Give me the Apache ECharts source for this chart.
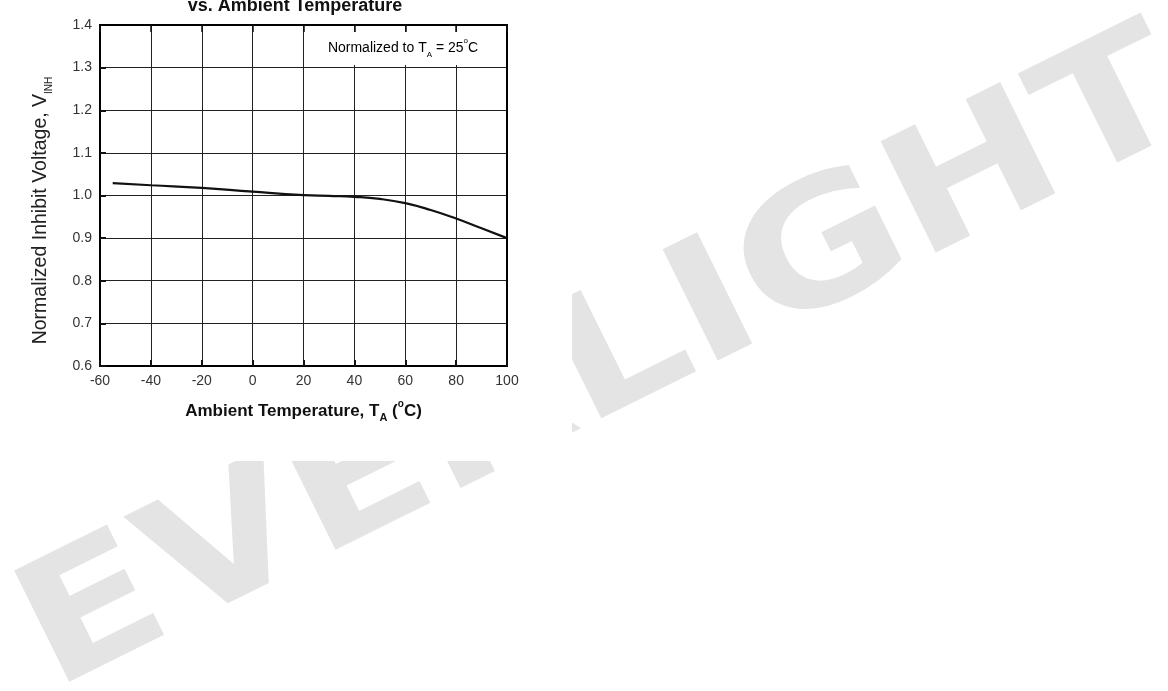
<!DOCTYPE html>
<html>
<head>
<meta charset="utf-8">
<script src="https://cdn.jsdelivr.net/npm/echarts@6/dist/echarts.min.js"></script>
<style>
  html, body { margin: 0; padding: 0; background: #fff; }
  #chart { width: 1168px; height: 691px; }
</style>
</head>
<body>
<div id="chart"></div>
<script>
// curve: ambient temperature (°C) vs normalized V_INH
const temps = [-55, -40, -20, 0, 20, 30, 40, 50, 60, 70, 80, 90, 100];
const vinh = [1.029, 1.024, 1.018, 1.009, 1.001, 0.999, 0.997, 0.992, 0.982, 0.966, 0.946, 0.923, 0.900];

// axis ranges
const xRange = [-60, 100, 20];
const yRange = [0.6, 1.4, 0.1];

const watermark = 'EVERLIGHT';
const font = '"Liberation Sans", Arial, sans-serif';

const chart = echarts.init(document.getElementById('chart'));

const richBase = {
  b: { fontSize: 17, fontWeight: 'bold', color: '#111', fontFamily: font, lineHeight: 24, verticalAlign: 'middle' },
  sub: { fontSize: 11, fontWeight: 'bold', color: '#111', fontFamily: font, lineHeight: 10, verticalAlign: 'bottom' },
  sup: { fontSize: 10, fontWeight: 'bold', color: '#111', fontFamily: font, lineHeight: 8, verticalAlign: 'top' }
};

const richY = {
  n: { fontSize: 19.5, color: '#222', fontFamily: font, lineHeight: 26, verticalAlign: 'middle' },
  sub: { fontSize: 10, color: '#222', fontFamily: font, lineHeight: 10, verticalAlign: 'bottom' }
};

const richNote = {
  n: { fontSize: 14, color: '#333', fontFamily: font, lineHeight: 22, verticalAlign: 'middle' },
  sub: { fontSize: 8, color: '#333', fontFamily: font, lineHeight: 8, verticalAlign: 'bottom' },
  sup: { fontSize: 8, color: '#333', fontFamily: font, lineHeight: 8, verticalAlign: 'top' }
};

const option = {
  backgroundColor: '#fff',
  animation: false,
  title: {
    text: 'vs. Ambient Temperature',
    left: 295,
    top: -3,
    padding: 0,
    textAlign: 'center',
    textStyle: { fontSize: 18, fontWeight: 'bold', color: '#111', fontFamily: font }
  },
  grid: {
    left: 100,
    top: 25,
    width: 407,
    height: 341,
    show: true,
    borderColor: '#000',
    borderWidth: 2,
    backgroundColor: 'transparent'
  },
  graphic: [
    {
      type: 'text',
      x: 605,
      y: 367,
      rotation: 0.46,
      scaleX: 1.2,
      z: -10,
      style: {
        text: watermark,
        fontSize: 170,
        fontWeight: 'bold',
        fontFamily: '"DejaVu Sans", sans-serif',
        fill: '#e4e4e4',
        textAlign: 'center',
        textVerticalAlign: 'middle'
      }
    },
    {
      type: 'rect',
      z: -5,
      shape: { x: 0, y: 0, width: 572, height: 461 },
      style: { fill: '#fff' }
    },
    {
      type: 'rect',
      z: 1,
      shape: { x: 315, y: 32, width: 191, height: 33 },
      style: { fill: '#fff' }
    },
    {
      type: 'text',
      z: 1,
      x: 403,
      y: 48,
      style: {
        text: '{n|Normalized to T}{sub|A}{n| = 25}{sup|o}{n|C}',
        rich: richNote,
        textAlign: 'center',
        textVerticalAlign: 'middle'
      }
    }
  ],
  xAxis: [
    {
      type: 'value',
      min: xRange[0],
      max: xRange[1],
      interval: xRange[2],
      name: '{b|Ambient Temperature, T}{sub|A}{b| (}{sup|o}{b|C)}',
      nameLocation: 'middle',
      nameGap: 33,
      nameTextStyle: { rich: richBase },
      axisLine: { show: true, onZero: false, lineStyle: { color: '#000', width: 2 } },
      axisTick: { show: true, inside: true, length: 6, lineStyle: { color: '#111', width: 2 } },
      axisLabel: { margin: 8, fontSize: 14, color: '#333', fontFamily: font },
      splitLine: { show: true, lineStyle: { color: '#222', width: 1 } }
    },
    {
      type: 'value',
      position: 'top',
      min: xRange[0],
      max: xRange[1],
      interval: xRange[2],
      z: 3,
      axisLine: { show: true, onZero: false, lineStyle: { color: '#000', width: 2 } },
      axisTick: { show: true, inside: true, length: 7, lineStyle: { color: '#111', width: 1.5 } },
      axisLabel: { show: false },
      splitLine: { show: false }
    }
  ],
  yAxis: [
    {
      type: 'value',
      min: yRange[0],
      max: yRange[1],
      interval: yRange[2],
      name: '{n|Normalized Inhibit Voltage, V}{sub|INH}',
      nameLocation: 'middle',
      nameRotate: 90,
      nameGap: 46,
      nameTextStyle: { rich: richY, padding: [0, 30, 0, 0] },
      axisLine: { show: true, onZero: false, lineStyle: { color: '#000', width: 2 } },
      axisTick: { show: true, inside: true, length: 6, lineStyle: { color: '#111', width: 2 } },
      axisLabel: {
        margin: 8,
        fontSize: 14,
        color: '#333',
        fontFamily: font,
        formatter: v => v.toFixed(1)
      },
      splitLine: { show: true, lineStyle: { color: '#222', width: 1 } }
    },
    {
      type: 'value',
      position: 'right',
      min: yRange[0],
      max: yRange[1],
      interval: yRange[2],
      axisLine: { show: true, onZero: false, lineStyle: { color: '#000', width: 2 } },
      axisTick: { show: false },
      axisLabel: { show: false },
      splitLine: { show: false }
    }
  ],
  series: [
    {
      type: 'line',
      xAxisIndex: 0,
      yAxisIndex: 0,
      z: 5,
      smooth: 0.5,
      showSymbol: false,
      lineStyle: { color: '#111', width: 2.2 },
      data: temps.map((t, i) => [t, vinh[i]])
    }
  ]
};

chart.setOption(option);
</script>
</body>
</html>
